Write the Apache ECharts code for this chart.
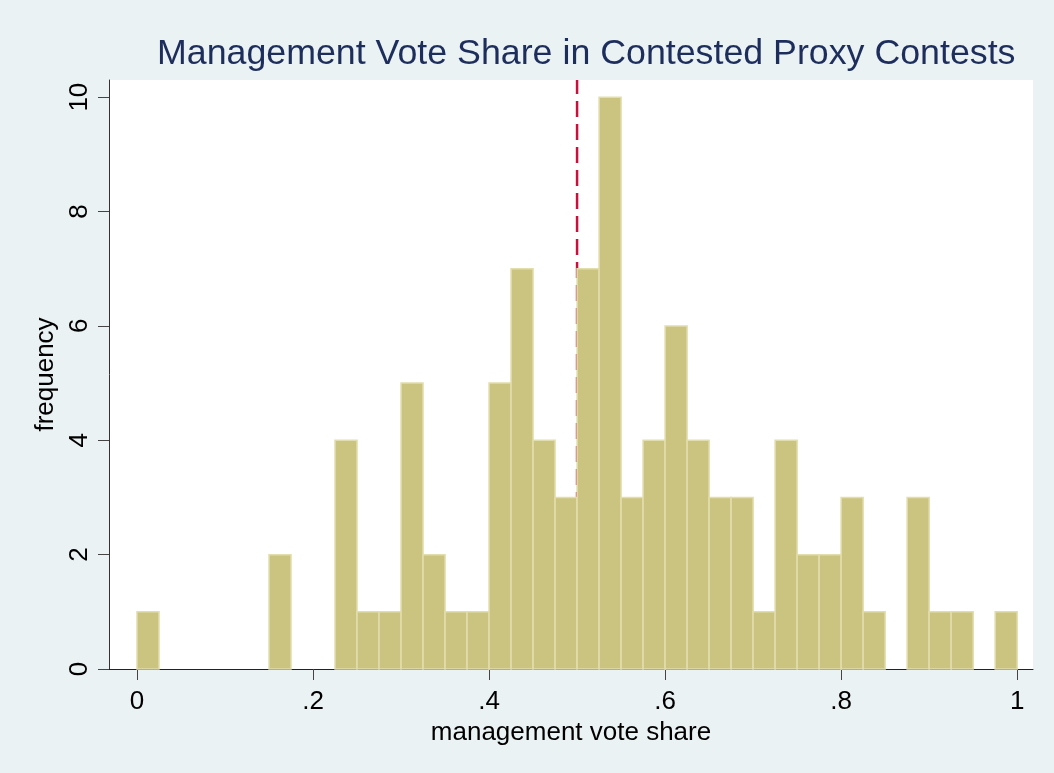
<!DOCTYPE html>
<html>
<head>
<meta charset="utf-8">
<script src="https://cdn.jsdelivr.net/npm/echarts@6/dist/echarts.min.js"></script>
<style>
  html, body { margin: 0; padding: 0; background: #eaf2f3; }
  #chart { width: 1054px; height: 773px; }
</style>
</head>
<body>
<div id="chart"></div>
<script>
// bin edges (width .025) and counts
const binStart = [0, .025, .05, .075, .1, .125, .15, .175, .2, .225,
  .25, .275, .3, .325, .35, .375, .4, .425, .45, .475,
  .5, .525, .55, .575, .6, .625, .65, .675, .7, .725,
  .75, .775, .8, .825, .85, .875, .9, .925, .95, .975]
const binEnd = [.025, .05, .075, .1, .125, .15, .175, .2, .225, .25,
  .275, .3, .325, .35, .375, .4, .425, .45, .475, .5,
  .525, .55, .575, .6, .625, .65, .675, .7, .725, .75,
  .775, .8, .825, .85, .875, .9, .925, .95, .975, 1]
const freq = [1, 0, 0, 0, 0, 0, 2, 0, 0, 4,
  1, 1, 5, 2, 1, 1, 5, 7, 4, 3,
  7, 10, 3, 4, 6, 4, 3, 3, 1, 4,
  2, 2, 3, 1, 0, 3, 1, 1, 0, 1]
const xTicks = [0, .2, .4, .6, .8, 1]
const yTicks = [0, 2, 4, 6, 8, 10]
const cutoff = 0.5

const font = '"Liberation Sans", Arial, sans-serif'
const chart = echarts.init(document.getElementById('chart'))

const bars = binStart.map((s, i) => [s, binEnd[i], freq[i]]).filter((d) => d[2] > 0)

const option = {
  backgroundColor: '#eaf2f3',
  animation: false,
  title: {
    text: 'Management Vote Share in Contested Proxy Contests',
    left: 152,
    top: 31,
    textStyle: { color: '#1e2e5c', fontSize: 35.75, fontWeight: 'normal', fontFamily: font },
  },
  grid: {
    left: 109, right: 21, top: 80, bottom: 104,
    show: true, backgroundColor: '#fff', borderWidth: 0,
  },
  xAxis: {
    type: 'value',
    min: -0.0318,
    max: 1.018,
    name: 'management vote share',
    nameLocation: 'middle',
    nameGap: 42,
    nameTextStyle: { color: '#000', fontSize: 26, fontFamily: font },
    splitLine: { show: false },
    axisLine: { show: true, onZero: false, lineStyle: { color: '#222', width: 1 } },
    axisTick: { show: true, length: 11, customValues: xTicks, lineStyle: { color: '#444', width: 1 } },
    axisLabel: {
      customValues: xTicks,
      margin: 20,
      color: '#000',
      fontSize: 26,
      fontFamily: font,
      formatter: (v) => (v === 0 || v === 1 ? String(v) : String(v).replace('0.', '.')),
    },
  },
  yAxis: {
    type: 'value',
    min: 0,
    max: 10.3,
    name: 'frequency',
    nameLocation: 'middle',
    nameGap: 45,
    nameTextStyle: { color: '#000', fontSize: 26, fontFamily: font },
    splitLine: { show: false },
    axisLine: { show: true, onZero: false, lineStyle: { color: '#333', width: 1 } },
    axisTick: { show: true, length: 11, customValues: yTicks, lineStyle: { color: '#444', width: 1 } },
    axisLabel: {
      customValues: yTicks,
      rotate: 90,
      margin: 16,
      color: '#000',
      fontSize: 26,
      fontFamily: font,
    },
  },
  series: [
    {
      type: 'line',
      z: 1,
      symbol: 'none',
      silent: true,
      data: [[cutoff, 0], [cutoff, 10.3]],
      lineStyle: { color: '#c8103c', width: 2.5, type: [16, 7] },
    },
    {
      type: 'custom',
      z: 2,
      data: bars,
      renderItem: (params, api) => {
        const p0 = api.coord([api.value(0), api.value(2)])
        const p1 = api.coord([api.value(1), 0])
        return {
          type: 'rect',
          shape: { x: p0[0], y: p0[1], width: p1[0] - p0[0], height: p1[1] - p0[1] },
          style: { fill: '#cbc480', stroke: '#e2ddad', lineWidth: 1.5 },
        }
      },
    },
  ],
}

chart.setOption(option)
</script>
</body>
</html>
